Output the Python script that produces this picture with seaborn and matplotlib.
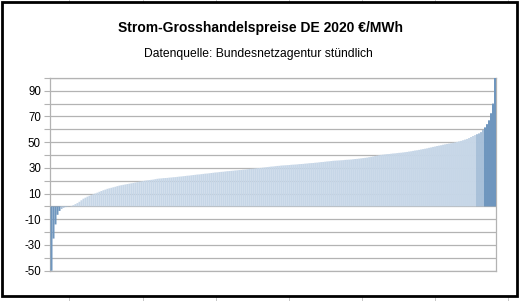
import matplotlib
matplotlib.use("Agg")
import matplotlib.pyplot as plt
import seaborn as sns
import pandas as pd
from matplotlib.patches import Rectangle
from matplotlib.lines import Line2D
from matplotlib.ticker import FixedLocator

sns.set_style("white")
plt.rcParams['font.family'] = ['Liberation Sans', 'DejaVu Sans']

title = "Strom-Grosshandelspreise DE 2020 €/MWh"
subtitle = "Datenquelle: Bundesnetzagentur stündlich"

# sorted hourly prices (€/MWh) (one value per bar group)
prices = [
    -50, -25, -14, -6.5, -3.5, -2, -1, -0.5, -0.3, -0.1,
    0.4, 1.0, 1.8, 2.6, 3.6, 4.8, 6.0, 6.8, 7.6, 8.3,
    8.9, 9.5, 10.1, 10.7, 11.4, 12.0, 12.6, 13.1, 13.7, 14.1,
    14.5, 14.9, 15.3, 15.8, 16.2, 16.5, 16.8, 17.1, 17.4, 17.7,
    18.0, 18.3, 18.6, 18.9, 19.2, 19.5, 19.8, 20.1, 20.3, 20.5,
    20.7, 20.9, 21.2, 21.5, 21.7, 21.8, 22.0, 22.1, 22.2, 22.4,
    22.5, 22.7, 22.8, 23.0, 23.2, 23.3, 23.5, 23.7, 23.9, 24.0,
    24.2, 24.4, 24.6, 24.8, 24.9, 25.1, 25.3, 25.5, 25.6, 25.8,
    26.0, 26.2, 26.4, 26.5, 26.7, 26.9, 27.0, 27.2, 27.4, 27.5,
    27.7, 27.8, 28.0, 28.1, 28.3, 28.4, 28.6, 28.7, 28.9, 29.1,
    29.3, 29.4, 29.6, 29.8, 29.9, 30.0, 30.2, 30.4, 30.6, 30.8,
    31.0, 31.1, 31.3, 31.5, 31.6, 31.8, 31.9, 32.0, 32.1, 32.2,
    32.4, 32.5, 32.6, 32.7, 32.9, 33.0, 33.1, 33.3, 33.4, 33.6,
    33.7, 33.8, 34.0, 34.1, 34.3, 34.5, 34.6, 34.8, 35.0, 35.1,
    35.3, 35.5, 35.6, 35.7, 35.8, 35.9, 36.0, 36.2, 36.3, 36.4,
    36.5, 36.7, 36.9, 37.0, 37.2, 37.4, 37.6, 37.8, 38.0, 38.3,
    38.6, 38.9, 39.2, 39.5, 39.8, 40.1, 40.3, 40.5, 40.7, 40.8,
    41.0, 41.2, 41.3, 41.5, 41.7, 41.8, 42.0, 42.2, 42.4, 42.7,
    42.9, 43.2, 43.5, 43.7, 44.0, 44.3, 44.6, 44.9, 45.2, 45.6,
    45.9, 46.3, 46.6, 47.0, 47.3, 47.6, 48.0, 48.3, 48.6, 48.9,
    49.2, 49.5, 49.8, 50.2, 50.6, 51.0, 51.5, 52.0, 52.5, 53.2,
    54.0, 54.8, 55.5, 56.2, 56.8, 57.8, 59.5, 61.5, 64.0, 67.0,
    72.5, 80.0, 100.0,
]
rank = list(range(len(prices)))
y_ticks = [-50, -30, -10, 10, 30, 50, 70, 90]
y_minor = [-40, -20, 0, 20, 40, 60, 80, 100]

W, H = 519, 301
fig = plt.figure(figsize=(W / 100, H / 100), dpi=100)
fig.patch.set_facecolor("white")

# spreadsheet cell lines in the background
for xp in [69, 143, 216, 289, 362, 435, 508]:
    fig.add_artist(Line2D([xp / W, xp / W], [0, 1], transform=fig.transFigure,
                          color="#c6c6c6", lw=0.7, zorder=-3))
fig.add_artist(Rectangle((2 / W, 1 - 295.5 / H), 514.5 / W, 293.5 / H,
                         transform=fig.transFigure, facecolor="white",
                         edgecolor="none", zorder=-2))
fig.add_artist(Rectangle((2 / W, 1 - 295.5 / H), 514.5 / W, 293.5 / H,
                         transform=fig.transFigure, facecolor="none",
                         edgecolor="black", lw=2.0, zorder=10))

left, right, top, bottom = 50.0, 496, 77.9, 270.7
ax = fig.add_axes([left / W, 1 - bottom / H, (right - left) / W, (bottom - top) / H])

df = pd.DataFrame({"rank": rank, "price": prices})
sns.barplot(data=df, x="rank", y="price", ax=ax, color="#c6d6e7",
            width=1.0, linewidth=0, edgecolor="none", saturation=1)
for p, v in zip(ax.patches, prices):
    if v <= -3 or v >= 60:
        p.set_facecolor("#6f96be")
    elif v < 0 or v >= 56:
        p.set_facecolor("#a8c0d9")
    p.set_edgecolor("none")
    p.set_snap(False)
    p.set_zorder(1.5)

ax.set_xlim(-0.75, len(prices) - 0.5)
ax.set_ylim(-50, 100)
ax.set_xticks([])
ax.set_xlabel("")
ax.set_ylabel("")
ax.yaxis.set_major_locator(FixedLocator(y_ticks))
ax.yaxis.set_minor_locator(FixedLocator(y_minor))
ax.set_yticklabels([str(t) for t in y_ticks])
ax.tick_params(axis="y", which="both", direction="out", length=4.5, width=0.8,
               color="#b3b3b3", labelsize=8.3, labelcolor="black", pad=2, left=True)
ax.grid(True, axis="y", which="both", color="#b3b3b3", lw=0.9)
for t in ax.yaxis.get_major_ticks() + ax.yaxis.get_minor_ticks():
    t.gridline.set_zorder(1.6)
for s in ax.spines.values():
    s.set_color("#b3b3b3")
    s.set_linewidth(0.9)
    s.set_zorder(1.0)

fig.text(260 / W, 1 - 28 / H, title, ha="center", va="center",
         fontsize=10, fontweight="bold", color="black")
fig.text(258 / W, 1 - 54.5 / H, subtitle, ha="center", va="center",
         fontsize=8.7, color="black")

fig.savefig("out.png", dpi=100)
